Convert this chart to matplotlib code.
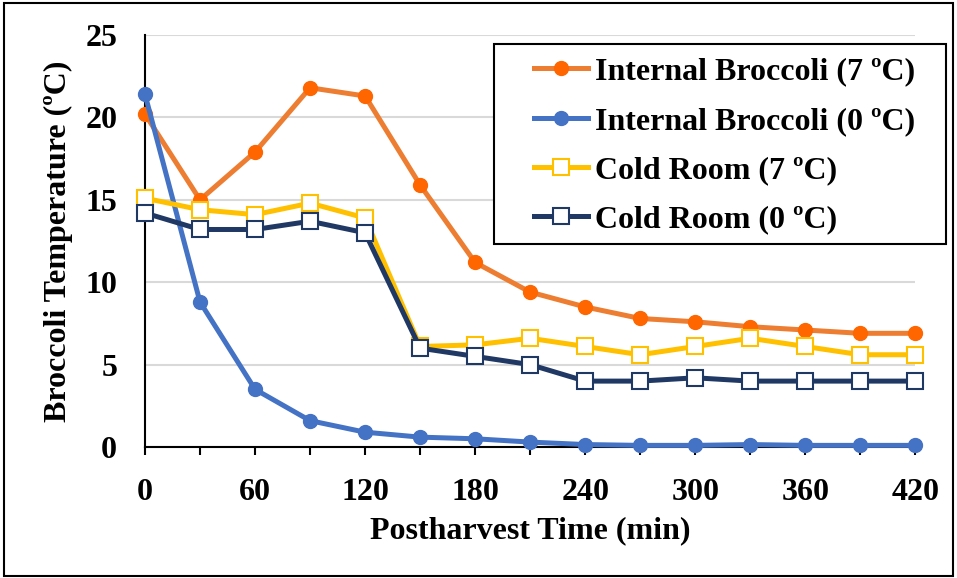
import matplotlib
matplotlib.use("Agg")
import matplotlib.pyplot as plt
from matplotlib.patches import Rectangle

plt.rcParams["font.family"] = ["Liberation Serif", "DejaVu Serif"]
plt.rcParams["font.weight"] = "bold"

minutes = [0, 30, 60, 90, 120, 150, 180, 210, 240, 270, 300, 330, 360, 390, 420]
internal_7 = [20.2, 15.0, 17.9, 21.8, 21.3, 15.9, 11.2, 9.4, 8.5, 7.8, 7.6, 7.3, 7.1, 6.9, 6.9]
internal_0 = [21.4, 8.8, 3.5, 1.6, 0.9, 0.6, 0.5, 0.3, 0.15, 0.1, 0.1, 0.15, 0.1, 0.1, 0.1]
cold_7 = [15.1, 14.4, 14.1, 14.8, 13.9, 6.1, 6.2, 6.6, 6.1, 5.6, 6.1, 6.6, 6.1, 5.6, 5.6]
cold_0 = [14.2, 13.2, 13.2, 13.7, 13.0, 6.0, 5.5, 5.0, 4.0, 4.0, 4.2, 4.0, 4.0, 4.0, 4.0]
labels = ["Internal Broccoli (7 \u00baC)", "Internal Broccoli (0 \u00baC)",
          "Cold Room (7 \u00baC)", "Cold Room (0 \u00baC)"]

fs = 23

fig = plt.figure(figsize=(9.57, 5.78), dpi=100)
ax = fig.add_axes([0.1515, 0.2266, 0.805, 0.7128])

ax.plot(minutes, internal_7, color="#ED7D31", lw=3.6, marker="o", ms=10,
        mfc="#FF6600", mec="#FF6600", label=labels[0], clip_on=False, zorder=3)
ax.plot(minutes, internal_0, color="#4472C4", lw=3.6, marker="o", ms=10,
        mfc="#4472C4", mec="#4472C4", label=labels[1], clip_on=False, zorder=4)
ax.plot(minutes, cold_7, color="#FFC000", lw=3.6, marker="s", ms=11,
        mfc="white", mec="#FFC000", mew=1.5, label=labels[2], clip_on=False, zorder=5)
ax.plot(minutes, cold_0, color="#203864", lw=3.6, marker="s", ms=11,
        mfc="white", mec="#203864", mew=1.5, label=labels[3], clip_on=False, zorder=6)

ax.set_xlim(0, 420)
ax.set_ylim(0, 25)
ax.set_yticks(range(0, 26, 5))
ax.set_xticks(minutes)
ax.set_xticklabels([str(m) if m % 60 == 0 else "" for m in minutes])
ax.grid(axis="y", color="#D9D9D9", lw=1.5)
ax.set_axisbelow(True)
for s in ["top", "right"]:
    ax.spines[s].set_visible(False)
ax.spines["left"].set_lw(1.5)
ax.spines["bottom"].set_lw(1.5)
ax.tick_params(axis="y", length=0, pad=20, labelsize=fs)
ax.tick_params(axis="x", length=6, width=1.5, pad=16, labelsize=fs)
ax.set_xlabel("Postharvest Time (min)", fontsize=fs, fontweight="bold", labelpad=7)
ax.set_ylabel("Broccoli Temperature (\u00baC)", fontsize=fs, fontweight="bold", labelpad=9)

# legend box drawn separately so its padding can match the original
fig.patches.append(Rectangle((0.516, 0.578), 0.4723, 0.346, transform=fig.transFigure,
                             facecolor="white", edgecolor="black", lw=1.5, zorder=4))
handles, _ = ax.get_legend_handles_labels()
leg = fig.legend(handles, labels, loc="center", bbox_to_anchor=(0.757, 0.748),
                 frameon=False, fontsize=fs, handlelength=1.7, handletextpad=0.2,
                 labelspacing=0.62, borderpad=0, borderaxespad=0)
leg.set_zorder(10)

fig.patches.append(Rectangle((0.004, 0.004), 0.992, 0.99, transform=fig.transFigure,
                             fill=False, edgecolor="black", lw=1.5))

fig.savefig("out.png", dpi=100)
